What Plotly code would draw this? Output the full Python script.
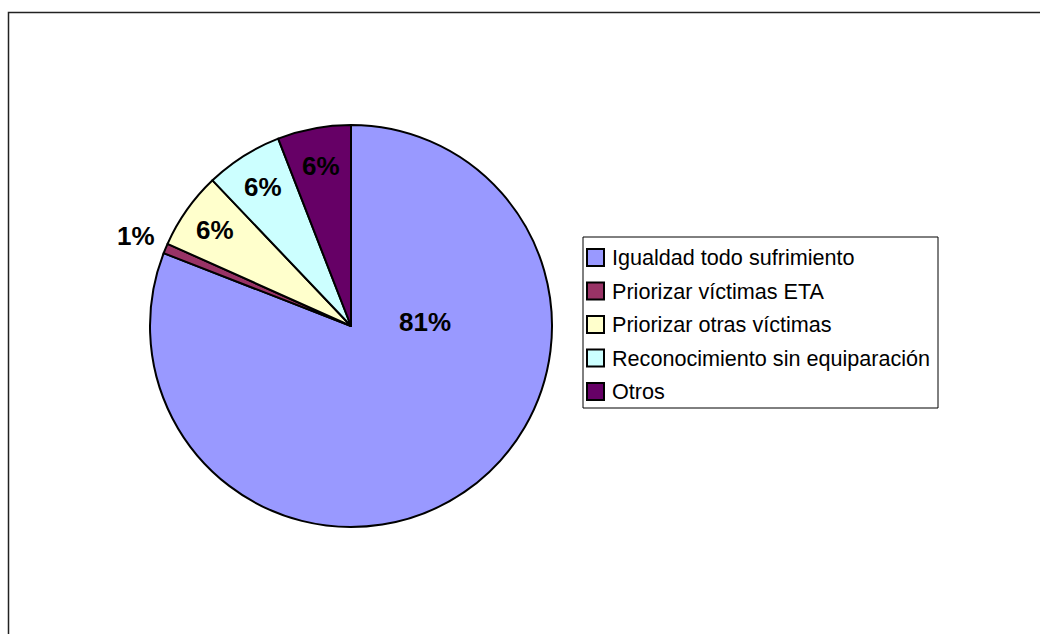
import math
import plotly.graph_objects as go

# ---- data ----
labels = ["Igualdad todo sufrimiento", "Priorizar víctimas ETA", "Priorizar otras víctimas",
          "Reconocimiento sin equiparación", "Otros"]
values = [80.9, 0.8, 6.2, 6.2, 5.9]
colors = ["#9999FF", "#993366", "#FFFFCC", "#CCFFFF", "#660066"]

OFF = 0
W, H = 1040, 634
CX, CY, R = 351, 326, 201  # pie centre / radius in window px


def px(x):
    return (x - OFF) / W


def py(y):
    return 1 - (y - OFF) / H


fig = go.Figure()
fig.add_trace(go.Pie(
    labels=labels, values=values, sort=False, direction="clockwise", rotation=0,
    marker=dict(colors=colors, line=dict(color="#000000", width=2)),
    textinfo="none", hoverinfo="label+percent", showlegend=False,
    domain=dict(x=[px(CX - R), px(CX + R)], y=[py(CY + R), py(CY - R)]),
))

# ---- slice labels, positioned from the values ----
total = sum(values)
label_radius = [0.37, 1.16, 0.83, 0.82, 0.81]
label_angle_override = {0: 87.0}
annotations = []
cum = 0.0
for i, v in enumerate(values):
    start = cum / total * 360
    cum += v
    end = cum / total * 360
    mid = label_angle_override.get(i, (start + end) / 2)
    rr = label_radius[i] * R
    x = CX + rr * math.sin(math.radians(mid))
    y = CY - rr * math.cos(math.radians(mid))
    pct = round(v / total * 100)
    annotations.append(dict(
        x=px(x), y=py(y), xref="paper", yref="paper", showarrow=False,
        text=f"<b>{pct}%</b>", xanchor="center", yanchor="middle",
        font=dict(family="Liberation Sans, Arial, sans-serif", size=26, color="#000000"),
    ))

# ---- legend (manual, to match the boxed Excel legend) ----
shapes = []
LX0, LX1, LY0, LY1 = 583, 938, 237, 408
shapes.append(dict(type="rect", xref="paper", yref="paper",
                   x0=px(LX0), x1=px(LX1), y0=py(LY1), y1=py(LY0),
                   line=dict(color="#000000", width=1), fillcolor="#FFFFFF", layer="above"))
row0, step = 257.5, 33.5
for i, (lab, col) in enumerate(zip(labels, colors)):
    yc = row0 + i * step
    shapes.append(dict(type="rect", xref="paper", yref="paper",
                       x0=px(587), x1=px(604), y0=py(yc + 8.5), y1=py(yc - 8.5),
                       line=dict(color="#000000", width=2), fillcolor=col, layer="above"))
    annotations.append(dict(
        x=px(610), y=py(yc), xref="paper", yref="paper", showarrow=False,
        text=lab, xanchor="left", yanchor="middle",
        font=dict(family="Liberation Sans, Arial, sans-serif", size=21.6, color="#000000"),
    ))

# ---- outer chart frame (runs off the right and bottom edges) ----
shapes.append(dict(type="rect", xref="paper", yref="paper",
                   x0=px(8.5), x1=px(1100), y0=py(700), y1=py(12.5),
                   line=dict(color="#222222", width=1.5), layer="above"))

fig.update_layout(
    width=W, height=H, margin=dict(l=0, r=0, t=0, b=0),
    paper_bgcolor="#FFFFFF", plot_bgcolor="#FFFFFF",
    annotations=annotations, shapes=shapes, showlegend=False,
)

fig.write_html(
    "out.html",
    config={"displayModeBar": False},
    post_script="document.body.style.margin='0';document.body.style.overflow='hidden';",
)
